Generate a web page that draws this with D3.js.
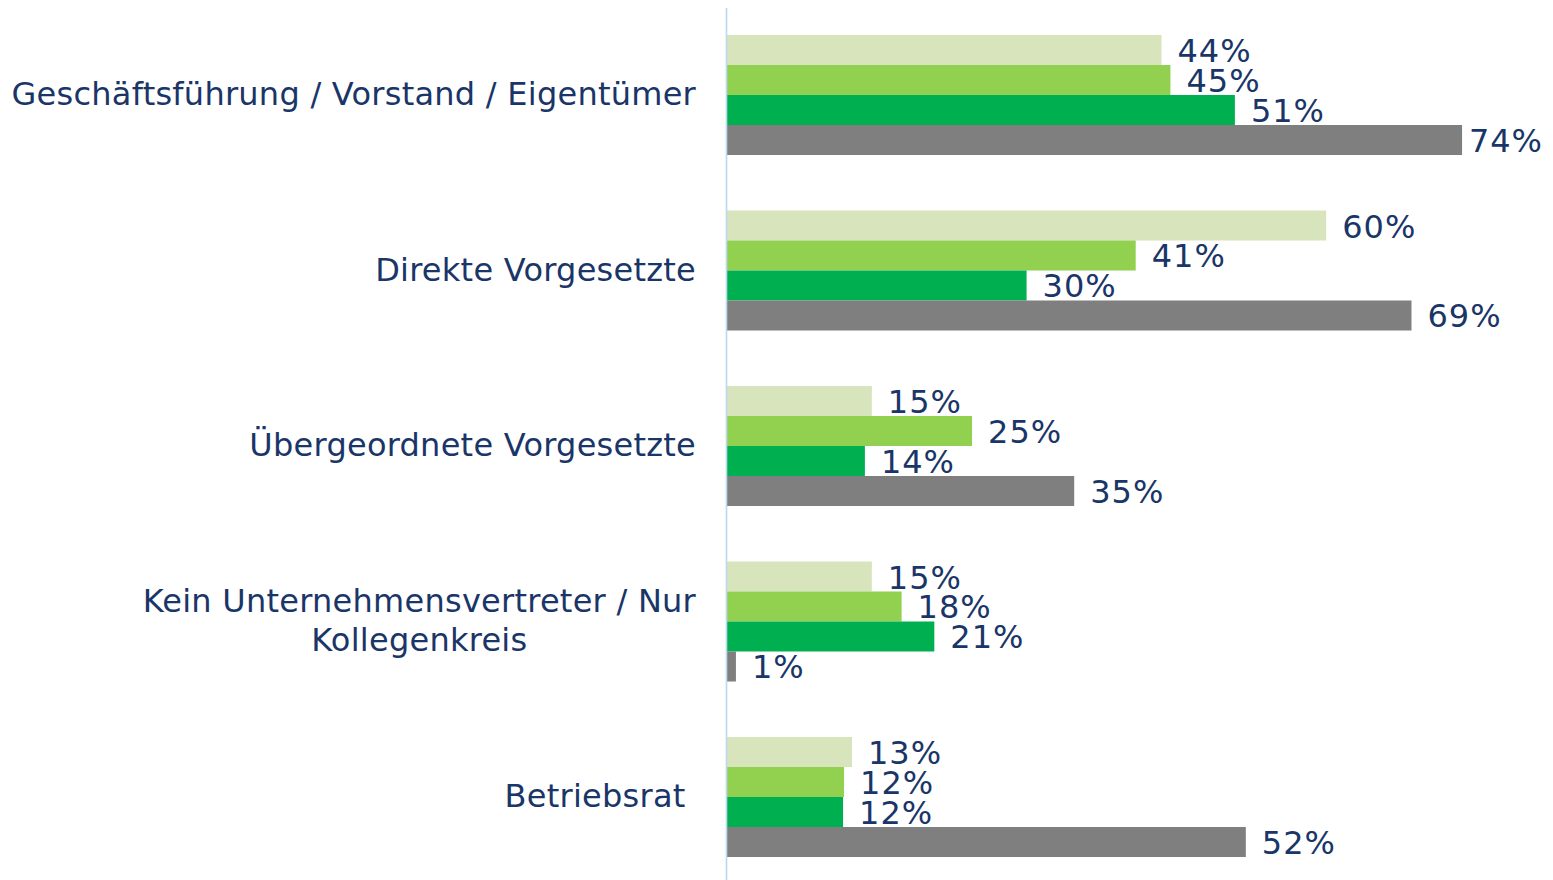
<!DOCTYPE html>
<html>
<head>
<meta charset="utf-8">
<script src="https://cdn.jsdelivr.net/npm/d3@7"></script>
<style>
  body { margin: 0; background: #fff; }
  svg { display: block; font-family: "DejaVu Sans", Verdana, sans-serif; }
</style>
</head>
<body>
<svg width="1553" height="880"></svg>
<script>
// data
var categories = [
  ["Geschäftsführung / Vorstand / Eigentümer"],
  ["Direkte Vorgesetzte"],
  ["Übergeordnete Vorgesetzte"],
  ["Kein Unternehmensvertreter / Nur", "Kollegenkreis"],
  ["Betriebsrat "]
];
var series = ["s1", "s2", "s3", "s4"];
var s1 = [43.8, 60.4, 14.6, 14.6, 12.6];
var s2 = [44.7, 41.2, 24.7, 17.6, 11.8];
var s3 = [51.2, 30.2, 13.9, 20.9, 11.7];
var s4 = [74.1, 69.0, 35.0, 0.9, 52.3];
var colors = ["#D8E4BC", "#92D050", "#00B050", "#7F7F7F"];

var svg = d3.select("svg"),
    x0 = 727,
    labelRight = 696,
    fontSize = 32,
    textColor = "#1A3567";

var catKeys = categories.map(function(d, i) { return i; });
var values = [s1, s2, s3, s4];

var x = d3.scaleLinear()
    .domain([0, 80])
    .range([x0, x0 + 80 * 9.92]);

var y = d3.scaleBand()
    .domain(catKeys)
    .range([7.25, 884.75])
    .paddingInner(0.3162)
    .paddingOuter(0.1581);

var ySub = d3.scaleBand()
    .domain(series)
    .range([0, y.bandwidth()]);

var groups = svg.selectAll("g.grp")
    .data(catKeys)
  .enter().append("g")
    .attr("class", "grp")
    .attr("transform", function(i) { return "translate(0," + y(i) + ")"; });

groups.selectAll("rect")
    .data(function(i) { return series.map(function(s, j) { return {s: s, j: j, v: values[j][i]}; }); })
  .enter().append("rect")
    .attr("x", x(0))
    .attr("y", function(d) { return ySub(d.s); })
    .attr("width", function(d) { return x(d.v) - x(0); })
    .attr("height", ySub.bandwidth())
    .attr("fill", function(d) { return colors[d.j]; });

groups.selectAll("text.val")
    .data(function(i) { return series.map(function(s, j) { return {s: s, j: j, v: values[j][i]}; }); })
  .enter().append("text")
    .attr("class", "val")
    .attr("x", function(d) { return x(d.v) + 16; })
    .attr("y", function(d) { return ySub(d.s) + ySub.bandwidth() / 2 + 12; })
    .attr("fill", textColor)
    .style("font-size", fontSize + "px")
    .style("letter-spacing", "1px")
    .text(function(d) { return Math.round(d.v) + "%"; })
    .each(function() {
      // keep labels inside the frame
      var w = this.getComputedTextLength(), tx = +this.getAttribute("x");
      if (tx + w > 1543) this.setAttribute("x", 1543 - w);
    });

// category labels
svg.selectAll("text.cat")
    .data(catKeys)
  .enter().append("text")
    .attr("class", "cat")
    .attr("fill", textColor)
    .style("font-size", fontSize + "px")
    .style("letter-spacing", "0.25px")
    .style("white-space", "pre")
    .each(function(i) {
      var t = d3.select(this), lines = categories[i], lh = 38.4;
      var cy = y(i) + y.bandwidth() / 2 + 10 - (lines.length - 1) * lh / 2;
      lines.forEach(function(l, k) {
        t.append("tspan").attr("y", cy + k * lh).text(l);
      });
      var w = d3.max(t.selectAll("tspan").nodes(), function(n) { return n.getComputedTextLength(); });
      t.attr("text-anchor", "middle");
      t.selectAll("tspan").attr("x", labelRight - w / 2);
    });

// axis line
svg.append("line")
    .attr("x1", x0 - 0.5).attr("x2", x0 - 0.5)
    .attr("y1", 8).attr("y2", 880)
    .attr("stroke", "#BDD7EE")
    .attr("stroke-width", 1.6);
</script>
</body>
</html>
